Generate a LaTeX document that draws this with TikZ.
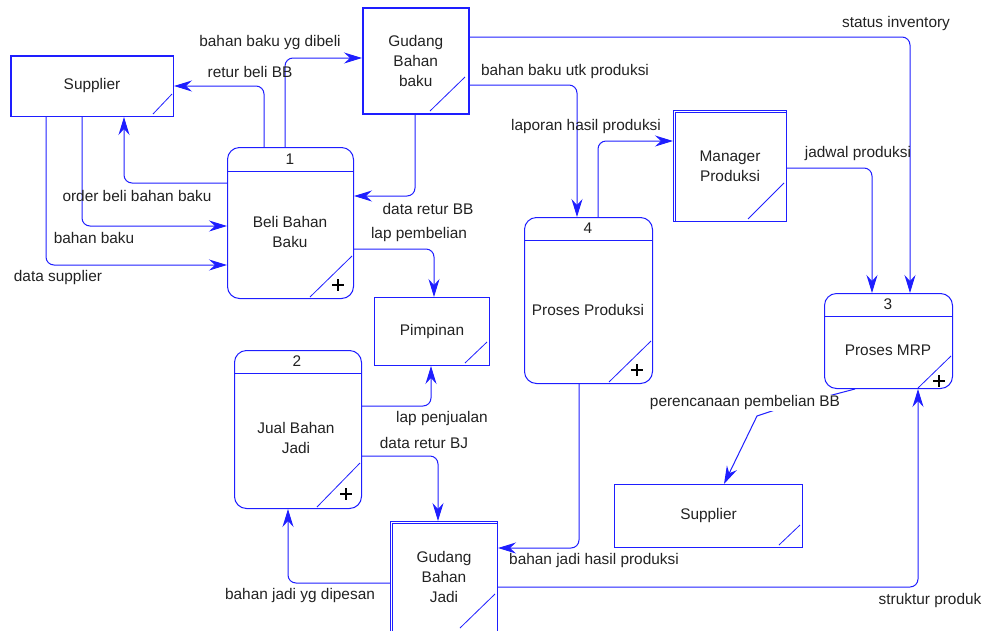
\documentclass[tikz,border=0pt]{standalone}
\usepackage{fontspec}
\setmainfont{Liberation Sans}
\usetikzlibrary{arrows.meta}
\definecolor{flowblue}{RGB}{30,30,255}
\definecolor{inkgray}{RGB}{34,34,34}

\begin{document}
\begin{tikzpicture}[x=1pt,y=-1pt,
  every node/.style={font=\fontsize{15.4}{20}\selectfont, text=inkgray, inner sep=0pt, align=center},
  entity/.style={draw=flowblue, line width=1pt, anchor=north west},
  process/.style={draw=flowblue, line width=1pt, rounded corners=12pt, anchor=north west},
  flow/.style={draw=flowblue, line width=1pt, rounded corners=8pt,
    -{Stealth[length=18pt,width=11pt,inset=6pt]}},
  corner/.style={draw=flowblue, line width=0.8pt},
  rule/.style={draw=flowblue, line width=1pt},
  edge2/.style={draw=flowblue, line width=0.8pt},
  plus/.style={draw=black, line width=1.1pt},
]
\useasboundingbox (0,0) rectangle (986,630);

% ---- external entities and stores ----
\node[entity, minimum width=163pt, minimum height=61pt] (sup1) at (10,55) {Supplier};
\node[entity, line width=1.5pt, minimum width=106pt, minimum height=106pt] (gbb) at (362,7) {Gudang\\Bahan\\baku};
\node[entity, minimum width=115pt, minimum height=68pt] (pim) at (374,297) {Pimpinan};
\node[entity, minimum width=113pt, minimum height=111pt] (mgr) at (673,110) {Manager\\Produksi};
\node[entity, minimum width=188pt, minimum height=63pt] (sup2) at (614,484) {Supplier};
\node[entity, minimum width=107pt, minimum height=111pt] (gbj) at (390,521) {Gudang\\Bahan\\Jadi};

% doubled top/left edges
\draw[edge2] ([shift={(1.8,0)}]sup1.south west) -- ([shift={(1.8,1.8)}]sup1.north west) -- ([shift={(0,1.8)}]sup1.north east);
\draw[edge2] ([shift={(1.6,0)}]gbb.south west) -- ([shift={(1.6,1.6)}]gbb.north west) -- ([shift={(0,1.6)}]gbb.north east);
\draw[edge2] ([shift={(2,0)}]mgr.south west) -- ([shift={(2,2)}]mgr.north west) -- ([shift={(0,2)}]mgr.north east);
\draw[edge2] ([shift={(2.5,0)}]gbj.south west) -- ([shift={(2.5,2.5)}]gbj.north west) -- ([shift={(0,2.5)}]gbj.north east);

% corner marks
\draw[corner] (153,114) -- (172,94);
\draw[corner] (430,111) -- (465,77);
\draw[corner] (465,363) -- (487,342);
\draw[corner] (748,219) -- (784,183);
\draw[corner] (779,545) -- (800,525);
\draw[corner] (460,628) -- (495,594);

% ---- processes ----
\node[process, minimum width=126pt, minimum height=151pt] (p1) at (227,147) {};
\node[process, minimum width=127pt, minimum height=158pt] (p2) at (234,350) {};
\node[process, minimum width=128pt, minimum height=166pt] (p4) at (524,217) {};
\node[process, minimum width=128pt, minimum height=95pt] (p3) at (824,293) {};

\draw[rule] (p1.west |- 0,171) -- (p1.east |- 0,171);
\draw[rule] (p2.west |- 0,373) -- (p2.east |- 0,373);
\draw[rule] (p4.west |- 0,240) -- (p4.east |- 0,240);
\draw[rule] (p3.west |- 0,316) -- (p3.east |- 0,316);

\node (n1) at (290,159) {1};
\node (t1) at (290,232) {Beli Bahan\\Baku};
\node (n2) at (297,361) {2};
\node (t2) at (296,438) {Jual Bahan\\Jadi};
\node (n4) at (588,228) {4};
\node (t4) at (588,310) {Proses Produksi};
\node (n3) at (888,304) {3};
\node (t3) at (888,350) {Proses MRP};

\draw[corner] (310,297) -- (352,256);
\draw[corner] (317,507) -- (360,463);
\draw[corner] (609,382) -- (651,341);
\draw[corner] (918,388) -- (951,356);

\draw[plus] (332,285) -- (344,285) (338,279) -- (338,291);
\draw[plus] (340,494) -- (352,494) (346,488) -- (346,500);
\draw[plus] (631,370) -- (643,370) (637,364) -- (637,376);
\draw[plus] (933,381) -- (945,381) (939,375) -- (939,387);

% ---- data flows ----
\draw[flow] (p1.north -| 285,0) |- (gbb.west |- 0,58);
\draw[flow] (p1.north -| 264,0) |- (sup1.east |- 0,86);
\draw[flow] (p1.west |- 0,183) -| (sup1.south -| 124,0);
\draw[flow] (sup1.south -| 82,0) |- (p1.west |- 0,226);
\draw[flow] (sup1.south -| 46,0) |- (p1.west |- 0,265);
\draw[flow] (gbb.south -| 415,0) |- (p1.east |- 0,196);
\draw[flow] (p1.east |- 0,249) -| (pim.north -| 434,0);
\draw[flow] (gbb.east |- 0,85) -| (p4.north -| 577,0);
\draw[flow] (gbb.east |- 0,37) -| (p3.north -| 910,0);
\draw[flow] (p4.north -| 598,0) |- (mgr.west |- 0,141);
\draw[flow] (mgr.east |- 0,168) -| (p3.north -| 872,0);
\draw[flow, rounded corners=0pt] (p3.south -| 855,0) -- (775,410) -- (757,416) -- (sup2.north -| 724,0);
\draw[flow] (gbj.east |- 0,587) -| (p3.south -| 918,0);
\draw[flow] (p4.south -| 579,0) |- (gbj.east |- 0,548);
\draw[flow] (gbj.west |- 0,583) -| (p2.south -| 288,0);
\draw[flow] (p2.east |- 0,406) -| (pim.south -| 431,0);
\draw[flow] (p2.east |- 0,456) -| (gbj.north -| 438,0);

% ---- flow labels ----
\node (l1) at (270,43) {bahan baku yg dibeli};
\node (l2) at (250,72) {retur beli BB};
\node (l3) at (137,196) {order beli bahan baku};
\node (l4) at (94,238) {bahan baku};
\node (l5) at (58,278) {data supplier};
\node (l6) at (428,209) {data retur BB};
\node (l7) at (419,235) {lap pembelian};
\node (l8) at (565,72) {bahan baku utk produksi};
\node (l9) at (896,24) {status inventory};
\node (l10) at (586,127) {laporan hasil produksi};
\node (l11) at (858,154) {jadwal produksi};
\node[fill=white, inner ysep=1pt] (l12) at (745,403) {perencanaan pembelian BB};
\node (l13) at (930,601) {struktur produk};
\node (l14) at (594,561) {bahan jadi hasil produksi};
\node (l15) at (300,596) {bahan jadi yg dipesan};
\node (l16) at (442,419) {lap penjualan};
\node (l17) at (424,443) {data retur BJ};
\end{tikzpicture}
\end{document}
